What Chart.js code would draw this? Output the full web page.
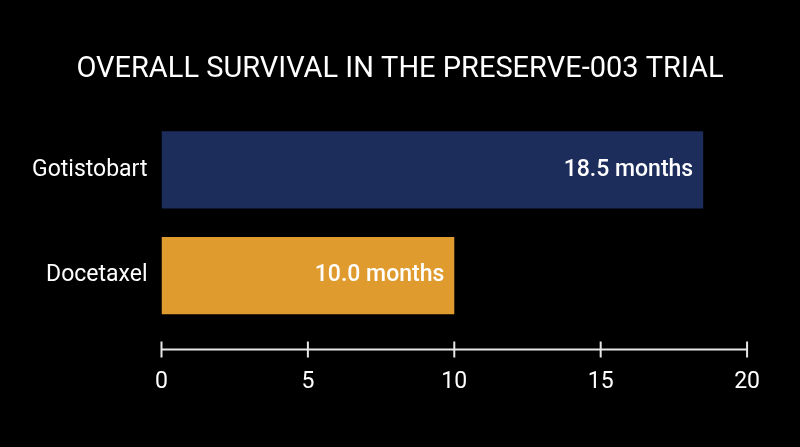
<!DOCTYPE html>
<html lang="en">
<head>
    <meta charset="UTF-8">
    <title>Overall Survival in the PRESERVE-003 Trial</title>
    <script src="https://cdn.jsdelivr.net/npm/chart.js"></script>
    <style>
        html, body {
            margin: 0;
            padding: 0;
            background-color: #000;
        }
        #chart-container {
            width: 800px;
            height: 447px;
        }
    </style>
</head>
<body>

    <div id="chart-container">
        <canvas id="osChart"></canvas>
    </div>

    <script>
        // Data
        const chartTitle = 'OVERALL SURVIVAL IN THE PRESERVE-003 TRIAL';
        const treatments = ['Gotistobart', 'Docetaxel'];
        const medianOS = [18.5, 10.0];
        const barColors = ['#1c2d5b', '#e09b2e'];
        const valueLabels = ['18.5 months', '10.0 months'];
        const xTicks = [0, 5, 10, 15, 20];

        const FONT = 'Roboto, "Noto Sans", sans-serif';

        // Title centred on the whole canvas (the built-in one follows the padding)
        const pageTitle = {
            id: 'pageTitle',
            afterDraw(chart) {
                const ctx = chart.ctx;
                ctx.save();
                ctx.fillStyle = '#ffffff';
                ctx.font = '29px ' + FONT;
                ctx.textAlign = 'center';
                ctx.textBaseline = 'alphabetic';
                ctx.fillText(chartTitle, chart.width / 2, 77);
                ctx.restore();
            }
        };

        // Custom axis line with ticks crossing it, drawn below the bars
        const axisLine = {
            id: 'axisLine',
            afterDraw(chart) {
                const ctx = chart.ctx;
                const x = chart.scales.x;
                const y = chart.chartArea.bottom + 21;
                ctx.save();
                ctx.strokeStyle = '#e6e6e6';
                ctx.lineWidth = 2;
                ctx.beginPath();
                ctx.moveTo(x.getPixelForValue(xTicks[0]), y);
                ctx.lineTo(x.getPixelForValue(xTicks[xTicks.length - 1]), y);
                xTicks.forEach(t => {
                    const px = x.getPixelForValue(t);
                    ctx.moveTo(px, y - 8);
                    ctx.lineTo(px, y + 8);
                });
                ctx.stroke();
                ctx.restore();
            }
        };

        // Value labels inside the end of each bar
        const barLabels = {
            id: 'barLabels',
            afterDatasetsDraw(chart) {
                const ctx = chart.ctx;
                const meta = chart.getDatasetMeta(0);
                ctx.save();
                ctx.fillStyle = '#ffffff';
                ctx.font = '500 23px ' + FONT;
                ctx.textAlign = 'right';
                ctx.textBaseline = 'middle';
                meta.data.forEach((bar, i) => {
                    ctx.fillText(valueLabels[i], bar.x - 10, bar.y);
                });
                ctx.restore();
            }
        };

        const ctx = document.getElementById('osChart').getContext('2d');
        new Chart(ctx, {
            type: 'bar',
            data: {
                labels: treatments,
                datasets: [{
                    data: medianOS,
                    backgroundColor: barColors,
                    borderWidth: 0,
                    categoryPercentage: 1,
                    barPercentage: 0.73
                }]
            },
            plugins: [pageTitle, axisLine, barLabels],
            options: {
                indexAxis: 'y',
                responsive: true,
                maintainAspectRatio: false,
                animation: false,
                layout: {
                    padding: { left: 18, right: 49, top: 117, bottom: 11 }
                },
                plugins: {
                    legend: { display: false },
                    tooltip: { enabled: false },
                    title: { display: false }
                },
                scales: {
                    x: {
                        min: 0,
                        max: 20,
                        afterBuildTicks: axis => {
                            axis.ticks = xTicks.map(v => ({ value: v }));
                        },
                        grid: { display: false, drawTicks: false },
                        border: { display: false },
                        ticks: {
                            color: '#ffffff',
                            padding: 40,
                            maxRotation: 0,
                            font: { family: FONT, size: 23 }
                        }
                    },
                    y: {
                        grid: { display: false, drawTicks: false },
                        border: { display: false },
                        ticks: {
                            color: '#ffffff',
                            padding: 14,
                            font: { family: FONT, size: 23 }
                        }
                    }
                }
            }
        });
    </script>
</body>
</html>
